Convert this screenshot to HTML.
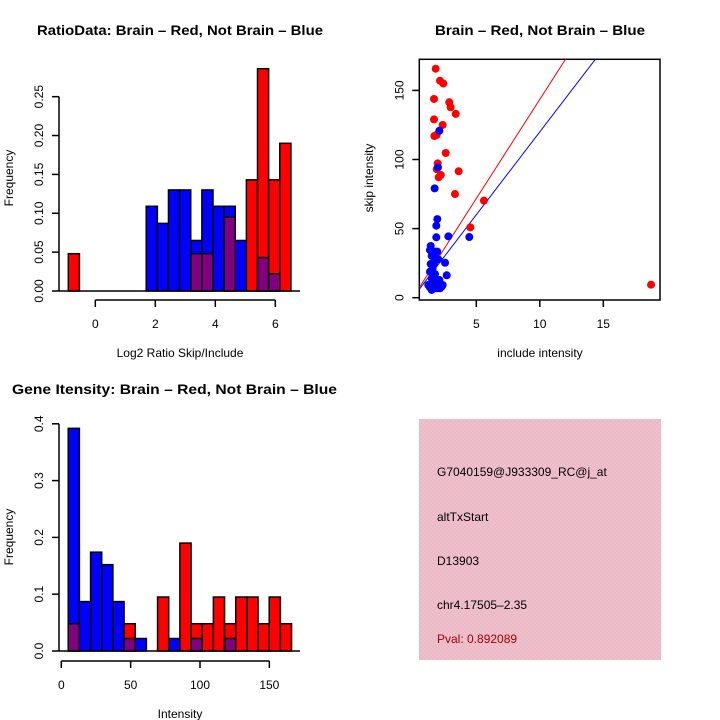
<!DOCTYPE html>
<html><head><meta charset="utf-8"><style>
html,body{margin:0;padding:0;background:#fff;}
svg{display:block;font-family:"Liberation Sans",sans-serif;}
</style></head><body>
<svg id="s" width="720" height="720" viewBox="0 0 720 720">
<defs><pattern id="hatch" width="4" height="4" patternUnits="userSpaceOnUse"><rect width="4" height="4" fill="#f4b6c6"/><rect width="2" height="2" fill="#e6c4cc"/><rect x="2" y="2" width="2" height="2" fill="#e6c4cc"/></pattern></defs>
<text x="37" y="35" textLength="286" lengthAdjust="spacingAndGlyphs" font-weight="bold" font-size="14">RatioData: Brain – Red, Not Brain – Blue</text>
<text x="435" y="35" textLength="210" lengthAdjust="spacingAndGlyphs" font-weight="bold" font-size="14">Brain – Red, Not Brain – Blue</text>
<text x="12" y="394" textLength="325" lengthAdjust="spacingAndGlyphs" font-weight="bold" font-size="14">Gene Itensity: Brain – Red, Not Brain – Blue</text>
<text x="180" y="357" text-anchor="middle" font-size="12">Log2 Ratio Skip/Include</text>
<text transform="translate(13,178) rotate(-90)" text-anchor="middle" font-size="12">Frequency</text>
<text x="540" y="357" text-anchor="middle" font-size="12">include intensity</text>
<text transform="translate(373,178) rotate(-90)" text-anchor="middle" font-size="12">skip intensity</text>
<text x="180" y="718" text-anchor="middle" font-size="12">Intensity</text>
<text transform="translate(13,537) rotate(-90)" text-anchor="middle" font-size="12">Frequency</text>
<rect x="419" y="419" width="242" height="241" fill="url(#hatch)"/>
<text x="437" y="476" font-size="12">G7040159@J933309_RC@j_at</text>
<text x="437" y="521" font-size="12">altTxStart</text>
<text x="437" y="565" font-size="12">D13903</text>
<text x="437" y="609" font-size="12">chr4.17505–2.35</text>
<text x="437" y="643" font-size="12" fill="#a00000">Pval: 0.892089</text>
<g id="g"></g>
</svg>
<script>
// Ratio histogram data (bin start -0.9, width 0.371)
const ratioStart=-0.9, ratioWidth=0.371;
const ratioBlue=[0,0,0,0,0,0,0,0.109,0.087,0.130,0.130,0.065,0.130,0.109,0.109,0.065,0,0.043,0.022,0];
const ratioRed=[0.048,0,0,0,0,0,0,0,0,0,0,0.048,0.048,0,0.095,0,0.143,0.286,0.143,0.190];
const ratioXTicks=[0,2,4,6];
const ratioYTicks=["0.00","0.05","0.10","0.15","0.20","0.25"];
// Intensity histogram data (bin start 5, width 8.05)
const intStart=5, intWidth=8.05;
const intBlue=[0.392,0.087,0.174,0.152,0.087,0.022,0.022,0,0,0.022,0,0.022,0,0,0.022,0,0,0,0,0];
const intRed=[0.048,0,0,0,0,0.048,0,0,0.095,0,0.190,0.048,0.048,0.095,0.048,0.095,0.095,0.048,0.095,0.048];
const intXTicks=[0,50,100,150];
const intYTicks=["0.0","0.1","0.2","0.3","0.4"];
// Scatter data
const redX=[1.80,2.14,2.40,1.67,2.87,2.98,3.38,1.67,2.35,1.70,1.88,2.59,1.96,1.88,3.61,2.20,2.04,3.32,5.60,4.53,18.76];
const redY=[165.7,157,155,143.8,141.4,137.8,133,129,125,117,117.8,104.7,97.2,93,91.5,88.8,87.1,75,70.2,50.9,9.4];
const blueX=[2.09,1.98,1.72,1.93,1.85,1.85,2.80,4.45,2.54,2.67,1.41,1.35,1.75,1.93,1.49,1.75,1.41,1.67,2.01,1.56,1.35,1.75,1.49,1.83,1.22,1.62,2.01,2.27,1.49,1.88,2.14,2.35,1.75,1.35,2.09];
const blueY=[120.8,94.3,79.1,56.9,52.1,43.7,44.4,43.9,25.3,16.2,37.4,34.5,33.3,33.3,30.2,28.5,24.4,24.9,27.8,21.3,18.8,17.1,14,12.8,9.2,10.4,10.4,8,5.6,6.8,6.8,9.2,8,7.5,12.8];
const scXTicks=[5,10,15];
const scYTicks=[0,50,100,150];
const redSlope=14.35, blueSlope=12.0;

const NS="http://www.w3.org/2000/svg", G=document.getElementById('g');
function mk(t,a,p){const e=document.createElementNS(NS,t);for(const k in a)e.setAttribute(k,a[k]);(p||G).appendChild(e);return e;}

function hist(opt){
  const {start,width,blue,red,xs,ys,xTicks,yTicks,yStep,axY,yAxX,nm}=opt;
  const grp=mk('g',{});
  
  
  for(let i=0;i<blue.length;i++){
    const x0=xs(start+i*width), x1=xs(start+(i+1)*width);
    const b=blue[i], r=red[i];
    const hi=Math.max(b,r), lo=Math.min(b,r);
    if(hi>0){
      const e=mk('rect',{x:x0,y:ys(hi),width:x1-x0,height:ys(0)-ys(hi),fill:b>=r?'#0000ff':'#ff0000',stroke:'#000','stroke-width':1.5},grp);
      
      
    }
    if(lo>0){
      const e=mk('rect',{x:x0,y:ys(lo),width:x1-x0,height:ys(0)-ys(lo),fill:'#800080',stroke:'#000','stroke-width':1.5},grp);
      
      
    }
  }
  const yv=yTicks.map((t,i)=>i*yStep);
  mk('line',{x1:yAxX,x2:yAxX,y1:ys(yv[0]),y2:ys(yv[yv.length-1]),stroke:'#000','stroke-width':1.5},grp);
  mk('line',{x1:yAxX,x2:300,y1:ys(0),y2:ys(0),stroke:'#000','stroke-width':1.5},grp);
  yv.forEach((v,i)=>{
    mk('line',{x1:yAxX-7,x2:yAxX,y1:ys(v),y2:ys(v),stroke:'#000','stroke-width':1.5},grp);
    const t=mk('text',{transform:`translate(${yAxX-20},${ys(v)}) rotate(-90)`,'text-anchor':'middle','font-size':12,'dominant-baseline':'central'},grp);
    t.textContent=yTicks[i];
    
    
  });
  mk('line',{x1:xs(xTicks[0]),x2:xs(xTicks[xTicks.length-1]),y1:axY,y2:axY,stroke:'#000','stroke-width':1.5},grp);
  xTicks.forEach(v=>{
    mk('line',{x1:xs(v),x2:xs(v),y1:axY,y2:axY+7,stroke:'#000','stroke-width':1.5},grp);
    const t=mk('text',{x:xs(v),y:axY+28,'text-anchor':'middle','font-size':12},grp);
    t.textContent=v;
    
    
  });
}
hist({start:ratioStart,width:ratioWidth,blue:ratioBlue,red:ratioRed,
  xs:v=>95.3+v*30, ys:v=>291-v*777.3, xTicks:ratioXTicks,yTicks:ratioYTicks,yStep:0.05,axY:300,yAxX:59,nm:'ratio'});
hist({start:intStart,width:intWidth,blue:intBlue,red:intRed,
  xs:v=>61.3+v*1.387, ys:v=>651-v*568, xTicks:intXTicks,yTicks:intYTicks,yStep:0.1,axY:661,yAxX:59,nm:'intensity'});

const sx=v=>412.8+v*12.7, sy=v=>297.7-v*1.382;
const L=419.3,R=660,T=59.3,B=300;
const sg=mk('g',{});


const fr=mk('rect',{x:L,y:T,width:R-L,height:B-T,fill:'none',stroke:'#000','stroke-width':1.5},sg);


const cp=mk('clipPath',{id:'cp'},sg);mk('rect',{x:L,y:T,width:R-L,height:B-T},cp);
[[redSlope,'#ff0000','red-fit-line'],[blueSlope,'#0000ff','blue-fit-line']].forEach(([m,c,n])=>{
  const x0=(L-412.8)/12.7, x1=(R-412.8)/12.7;
  const e=mk('line',{x1:sx(x0),y1:sy(m*x0),x2:sx(x1),y2:sy(m*x1),stroke:c,'stroke-width':1,'clip-path':'url(#cp)'},sg);
  
  
});
redX.forEach((x,i)=>{const e=mk('circle',{cx:sx(x),cy:sy(redY[i]),r:4,fill:'#ff0000'},sg);
  
  });
blueX.forEach((x,i)=>{const e=mk('circle',{cx:sx(x),cy:sy(blueY[i]),r:4,fill:'#0000ff'},sg);
  
  });
scXTicks.forEach(v=>{mk('line',{x1:sx(v),x2:sx(v),y1:B,y2:B+7,stroke:'#000','stroke-width':1.5},sg);
  const t=mk('text',{x:sx(v),y:B+28,'text-anchor':'middle','font-size':12},sg);t.textContent=v;
  
  });
scYTicks.forEach(v=>{mk('line',{x1:L-7,x2:L,y1:sy(v),y2:sy(v),stroke:'#000','stroke-width':1.5},sg);
  const t=mk('text',{transform:`translate(${L-20},${sy(v)}) rotate(-90)`,'text-anchor':'middle','font-size':12,'dominant-baseline':'central'},sg);t.textContent=v;
  
  });
</script>
</body></html>
